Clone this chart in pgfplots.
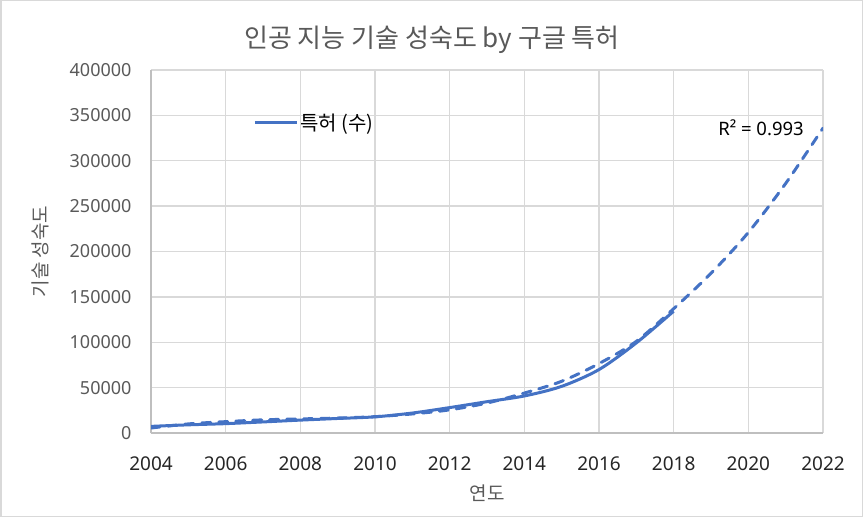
\documentclass[border=0pt]{standalone}
\usepackage{fontspec}
\setmainfont{Noto Sans}
\newfontfamily\kr{Noto Sans CJK KR}
\usepackage{pgfplots}
\pgfplotsset{compat=1.18}
\definecolor{series}{HTML}{4472C4}
\definecolor{txtgray}{HTML}{595959}
\definecolor{gridgray}{HTML}{D9D9D9}
\definecolor{axgray}{HTML}{BFBFBF}

\begin{document}
\begin{tikzpicture}
  % chart frame, 863 x 517
  \draw[gridgray, line width=1.5bp] (0.75bp,0.75bp) rectangle (862.25bp,516.25bp);
  \begin{axis}[
      at={(151bp,84bp)}, anchor=south west,
      scale only axis,
      width=672bp, height=363bp,
      xmin=2004, xmax=2022,
      ymin=0, ymax=400000,
      xtick={2004,2006,...,2022},
      ytick={0,50000,...,400000},
      scaled x ticks=false,
      scaled y ticks=false,
      /pgf/number format/fixed,
      /pgf/number format/1000 sep={},
      /pgf/number format/assume math mode=true,
      major tick length=0pt,
      grid=major,
      major grid style={gridgray, line width=1.4bp},
      axis line style={axgray, line width=1.4bp},
      axis x line*=bottom, axis y line*=left,
      x tick label style={font=\fontsize{19bp}{22bp}\selectfont, text=black!85, yshift=-20bp},
      y tick label style={font=\fontsize{18bp}{21bp}\selectfont, text=txtgray, xshift=-16bp},
      title={\kr 인공 지능 기술 성숙도 by 구글 특허},
      title style={at={(axis description cs:0.418,1.068)}, anchor=center,
                   font=\fontsize{26bp}{29bp}\selectfont, text=txtgray},
      xlabel={\kr 연도},
      xlabel style={at={(axis description cs:0.5,-0.165)}, anchor=center,
                    font=\fontsize{19bp}{22bp}\selectfont, text=txtgray},
      ylabel={\kr 기술 성숙도},
      ylabel style={at={(axis description cs:-0.165,0.5)}, anchor=center,
                    font=\fontsize{19bp}{22bp}\selectfont, text=txtgray},
      legend style={draw=none, fill=none, at={(axis description cs:0.152,0.854)},
                    anchor=west, inner sep=0pt,
                    font=\kr\fontsize{20bp}{23bp}\selectfont},
      legend cell align=left,
      legend image code/.code={\draw[#1, line width=3bp] (0bp,0bp) -- (42bp,0bp);},
    ]
    % patents (yearly)
    \addplot[series, line width=3bp, smooth, tension=0.5] coordinates {
      (2004,7300) (2005,9000) (2006,10300) (2007,12200) (2008,14200)
      (2009,16000) (2010,17800) (2011,22000) (2012,28000) (2013,34500)
      (2014,40800) (2015,51400) (2016,69900) (2017,99300) (2018,134200)
    };
    \addlegendentry{특허 (수)}
    % polynomial trendline
    \addplot[series, line width=3bp, smooth, dash pattern=on 9bp off 8bp,
             line cap=round, forget plot] coordinates {
      (2004,5500) (2005,10000) (2006,12500) (2007,14500) (2008,15500)
      (2009,16500) (2010,18000) (2011,21000) (2012,25500) (2013,33000)
      (2014,44000) (2015,57000) (2016,76500) (2017,101000) (2018,137000)
      (2019,176000) (2020,221000) (2021,275000) (2022,336000)
    };
    \node[font=\fontsize{18.5bp}{21bp}\selectfont, text=black] at (axis cs:2020.34,336000) {R² = 0.993};
  \end{axis}
\end{tikzpicture}
\end{document}
